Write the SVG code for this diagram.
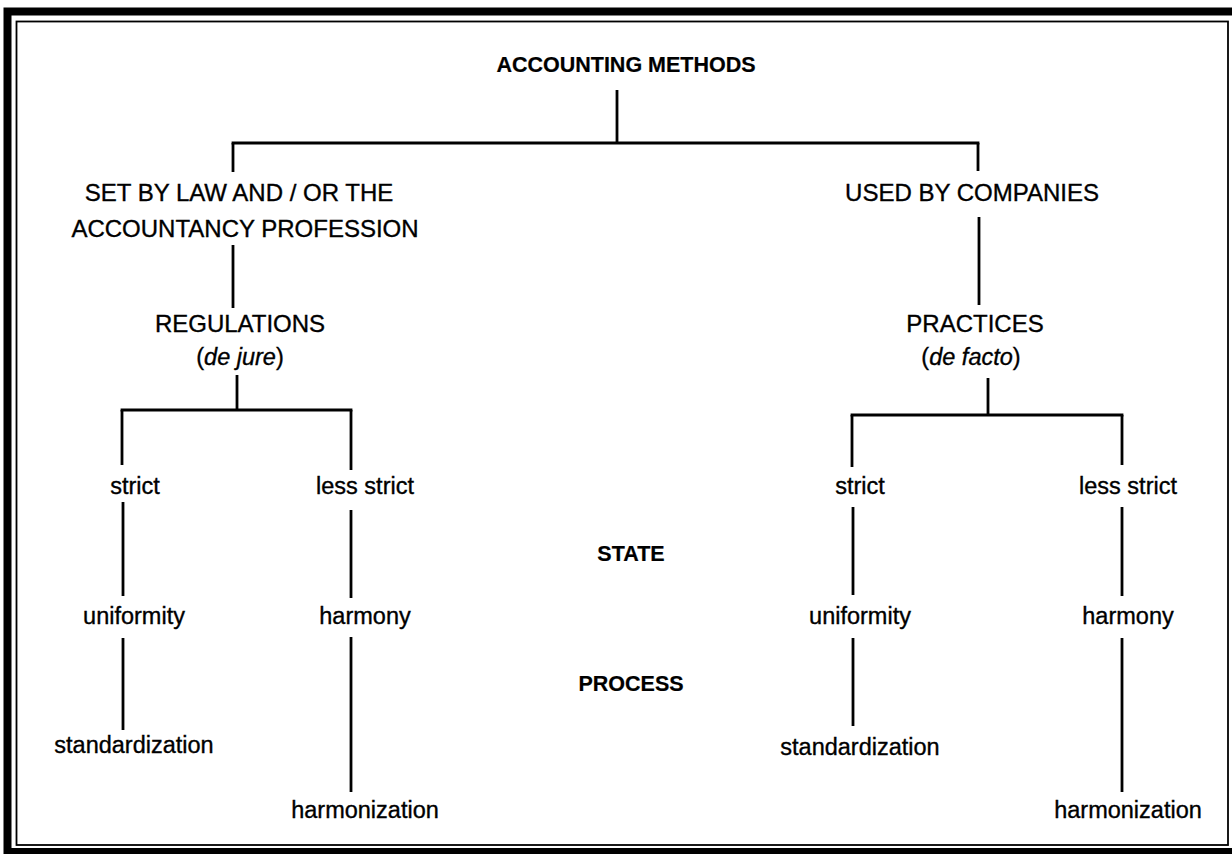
<svg xmlns="http://www.w3.org/2000/svg" width="1232" height="854" viewBox="0 0 1232 854">
<style>
text{font-family:"Liberation Sans",Arial,sans-serif;font-size:23.5px;fill:#000;stroke:#000;stroke-width:0.35;text-anchor:middle}
.u{font-size:24px}
.b{font-weight:bold;font-size:21.5px;stroke-width:0.2}
.c line{stroke:#000;stroke-width:2.8}
</style>
<rect width="1232" height="854" fill="#fff"/>
<g id="frame">
<rect x="7.5" y="11.5" width="1232" height="840.5" fill="none" stroke="#000" stroke-width="8"/>
<rect x="16.5" y="21.5" width="1211.5" height="823.5" fill="none" stroke="#000" stroke-width="1.8"/>
</g>
<g class="c" id="connectors">
<line x1="617" y1="90" x2="617" y2="143"/>
<line x1="231.6" y1="143" x2="979.4" y2="143"/>
<line x1="233" y1="143" x2="233" y2="172"/>
<line x1="978" y1="143" x2="978" y2="171"/>
<line x1="233" y1="245" x2="233" y2="308"/>
<line x1="979" y1="217" x2="979" y2="305"/>
<line x1="237" y1="375" x2="237" y2="410"/>
<line x1="120.6" y1="410" x2="352.4" y2="410"/>
<line x1="122" y1="410" x2="122" y2="465"/>
<line x1="351" y1="410" x2="351" y2="470"/>
<line x1="988" y1="378" x2="988" y2="415"/>
<line x1="850.6" y1="415" x2="1123.4" y2="415"/>
<line x1="852" y1="415" x2="852" y2="467"/>
<line x1="1122" y1="415" x2="1122" y2="465"/>
<line x1="123" y1="502" x2="123" y2="596"/>
<line x1="123" y1="638" x2="123" y2="730"/>
<line x1="351" y1="510" x2="351" y2="598"/>
<line x1="351" y1="637" x2="351" y2="792"/>
<line x1="853" y1="507" x2="853" y2="595"/>
<line x1="853" y1="638" x2="853" y2="726"/>
<line x1="1122" y1="507" x2="1122" y2="596"/>
<line x1="1122" y1="638" x2="1122" y2="792"/>
</g>
<g id="n-title"><text class="b" x="626" y="72">ACCOUNTING METHODS</text></g>
<g id="n-setby"><text class="u" x="239" y="201">SET BY LAW AND / OR THE</text><text class="u" x="245" y="237">ACCOUNTANCY PROFESSION</text></g>
<g id="n-used"><text class="u" x="972" y="201">USED BY COMPANIES</text></g>
<g id="n-reg"><text class="u" x="240" y="332">REGULATIONS</text><text x="240" y="365">(<tspan font-style="italic">de jure</tspan>)</text></g>
<g id="n-prac"><text class="u" x="975" y="332">PRACTICES</text><text x="971" y="365">(<tspan font-style="italic">de facto</tspan>)</text></g>
<g id="n-l-strict"><text x="135" y="494">strict</text></g>
<g id="n-l-less"><text x="365" y="494">less strict</text></g>
<g id="n-l-unif"><text x="134" y="624">uniformity</text></g>
<g id="n-l-harm"><text x="365" y="624">harmony</text></g>
<g id="n-l-std"><text x="134" y="753">standardization</text></g>
<g id="n-l-harmz"><text x="365" y="818">harmonization</text></g>
<g id="n-r-strict"><text x="860" y="494">strict</text></g>
<g id="n-r-less"><text x="1128" y="494">less strict</text></g>
<g id="n-r-unif"><text x="860" y="624">uniformity</text></g>
<g id="n-r-harm"><text x="1128" y="624">harmony</text></g>
<g id="n-r-std"><text x="860" y="755">standardization</text></g>
<g id="n-r-harmz"><text x="1128" y="818">harmonization</text></g>
<g id="n-state"><text class="b" x="631" y="561">STATE</text></g>
<g id="n-process"><text class="b" x="631" y="691">PROCESS</text></g>
</svg>
